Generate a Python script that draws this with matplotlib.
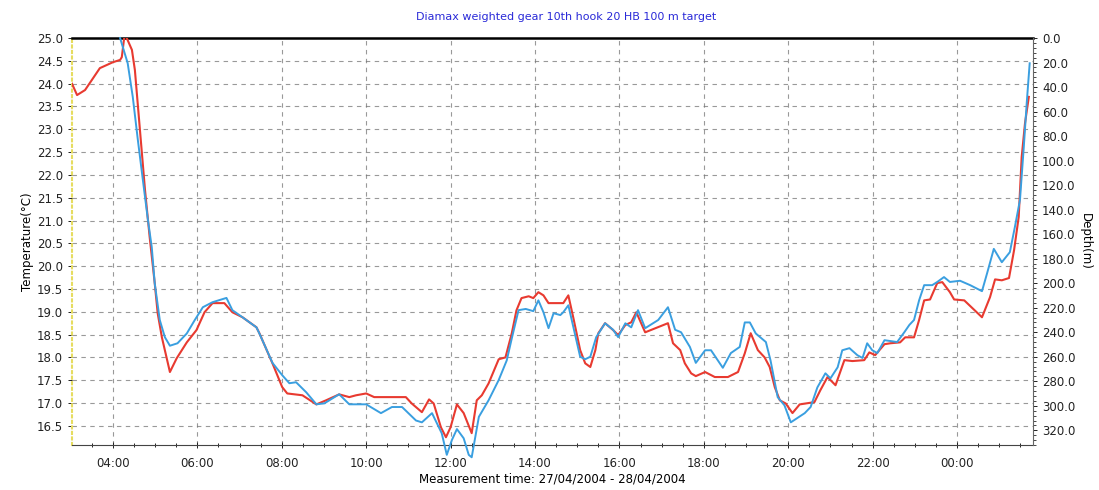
import numpy as np
import matplotlib
matplotlib.use("Agg")
import matplotlib.pyplot as plt
from matplotlib.ticker import MultipleLocator

# time in hours since 27/04/2004 00:00 (values > 24 are on 28/04)
red_time = [3.03, 3.15, 3.34, 3.69, 4.0, 4.17, 4.21, 4.28, 4.45, 4.52, 4.64, 4.76, 4.87, 4.99,
            5.06, 5.16, 5.35, 5.51, 5.75, 5.98, 6.17, 6.36, 6.64, 6.83, 7.07, 7.40, 7.47, 7.78,
            8.01, 8.13, 8.49, 8.82, 9.05, 9.36, 9.60, 9.76, 10.0, 10.19, 10.94, 11.08, 11.32,
            11.49, 11.60, 11.77, 11.89, 12.0, 12.15, 12.31, 12.50, 12.62, 12.74, 12.90, 13.14,
            13.30, 13.45, 13.56, 13.68, 13.85, 13.96, 14.08, 14.20, 14.32, 14.67, 14.79, 14.91,
            15.07, 15.19, 15.31, 15.43, 15.50, 15.66, 15.85, 15.97, 16.14, 16.28, 16.40, 16.61,
            16.85, 17.15, 17.27, 17.44, 17.55, 17.70, 17.81, 18.03, 18.26, 18.57, 18.81, 18.97,
            19.11, 19.28, 19.44, 19.56, 19.68, 19.80, 19.94, 20.10, 20.27, 20.62, 20.76, 20.93,
            21.12, 21.33, 21.52, 21.80, 21.92, 22.06, 22.28, 22.42, 22.65, 22.77, 22.98, 23.10,
            23.22, 23.36, 23.53, 23.65, 23.83, 23.93, 24.17, 24.59, 24.78, 24.90, 25.06, 25.23,
            25.35, 25.46, 25.53, 25.61, 25.70]
temperature = [24.0, 23.75, 23.86, 24.34, 24.47, 24.52, 24.58, 25.1, 24.74, 24.3, 22.98, 21.67,
               20.64, 19.63, 18.97, 18.44, 17.68, 17.98, 18.33, 18.6, 18.99, 19.19, 19.19, 18.99,
               18.88, 18.66, 18.53, 17.87, 17.35, 17.21, 17.17, 16.97, 17.06, 17.19, 17.13, 17.17,
               17.21, 17.13, 17.13, 16.99, 16.8, 17.08, 16.99, 16.47, 16.25, 16.47, 16.97, 16.78,
               16.34, 17.06, 17.17, 17.43, 17.96, 18.0, 18.53, 19.03, 19.3, 19.34, 19.3, 19.43,
               19.36, 19.19, 19.19, 19.36, 18.86, 18.16, 17.87, 17.79, 18.16, 18.53, 18.75, 18.6,
               18.49, 18.71, 18.77, 18.99, 18.55, 18.64, 18.75, 18.31, 18.16, 17.87, 17.65, 17.59,
               17.68, 17.57, 17.57, 17.68, 18.09, 18.53, 18.16, 18.0, 17.79, 17.35, 17.06, 16.99,
               16.78, 16.97, 17.02, 17.28, 17.57, 17.39, 17.94, 17.92, 17.94, 18.11, 18.05, 18.29,
               18.31, 18.33, 18.44, 18.44, 18.82, 19.25, 19.27, 19.63, 19.65, 19.43, 19.27, 19.25,
               18.88, 19.32, 19.71, 19.69, 19.74, 20.35, 21.08, 22.39, 23.14, 23.71]

blue_time = [4.17, 4.35, 4.47, 4.59, 4.71, 4.83, 4.92, 4.99, 5.11, 5.23, 5.35, 5.53, 5.75,
             5.94, 6.13, 6.36, 6.69, 6.83, 7.07, 7.40, 7.47, 7.78, 8.01, 8.18, 8.34, 8.58, 8.82,
             9.01, 9.36, 9.60, 10.0, 10.35, 10.61, 10.85, 11.18, 11.32, 11.56, 11.79, 11.91,
             12.03, 12.15, 12.31, 12.43, 12.50, 12.67, 12.90, 13.14, 13.33, 13.45, 13.61, 13.78,
             13.96, 14.08, 14.20, 14.32, 14.44, 14.60, 14.67, 14.79, 14.91, 15.07, 15.19, 15.31,
             15.45, 15.66, 15.85, 15.97, 16.14, 16.28, 16.44, 16.61, 16.92, 17.15, 17.32, 17.46,
             17.67, 17.81, 18.03, 18.17, 18.45, 18.64, 18.85, 18.97, 19.09, 19.23, 19.47, 19.58,
             19.75, 19.91, 20.06, 20.39, 20.53, 20.69, 20.88, 21.0, 21.17, 21.28, 21.45, 21.64,
             21.76, 21.87, 21.99, 22.11, 22.28, 22.58, 22.75, 22.87, 22.98, 23.10, 23.22, 23.41,
             23.53, 23.69, 23.83, 24.07, 24.31, 24.59, 24.71, 24.87, 25.06, 25.25, 25.37, 25.49,
             25.58, 25.65, 25.72]
depth = [0, 20.6, 48, 83, 116, 148.6, 170.6, 200, 230, 244, 251, 249, 241, 230, 219.6, 215.5,
         212, 222, 227.8, 236, 241, 265, 275, 281.6, 280.8, 289, 298.8, 298, 290.6, 298.8, 298.8,
         306, 301, 301, 312, 313.5, 306, 322.4, 340, 328, 319, 326.5, 340, 342, 309, 295.5, 279,
         263, 245, 222, 221, 222.8, 214, 223.7, 236.7, 224.5, 226, 223.7, 218, 236, 260, 262, 260,
         244, 232.7, 238, 244, 232.7, 236, 222, 236.7, 230, 219.6, 238, 240, 252, 265, 254.7,
         254.7, 269, 257, 252, 232, 232, 241, 248, 263, 293, 299.6, 313.5, 306, 301, 285, 273.5,
         277.6, 268.6, 254.7, 253, 258.8, 261, 249, 254.7, 257, 246.5, 248, 240, 234, 230, 214,
         201.6, 201.6, 199, 195, 199, 198, 201.6, 206.5, 192, 172, 182.9, 174.7, 154, 132, 89, 53,
         20.6]

hour_ticks = [4, 6, 8, 10, 12, 14, 16, 18, 20, 22, 24]
hour_labels = ["04:00", "06:00", "08:00", "10:00", "12:00", "14:00", "16:00", "18:00",
               "20:00", "22:00", "00:00"]
temp_ticks = np.arange(16.5, 25.01, 0.5)
depth_ticks = np.arange(0, 321, 20)

fig = plt.figure(figsize=(10.99, 4.9), dpi=100)
ax = fig.add_axes([0.0655, 0.0918, 0.8745, 0.8306])
ax2 = ax.twinx()

ax.plot(red_time, temperature, color="#e83a30", lw=1.5, zorder=3)
ax2.plot(blue_time, depth, color="#3a9fe0", lw=1.4, clip_on=False, zorder=3)

ax.set_xlim(3.03, 25.8)
ax.set_ylim(16.08, 25.0)
ax2.set_ylim(332, 0)

ax.set_xticks(hour_ticks)
ax.set_xticklabels(hour_labels)
ax.xaxis.set_minor_locator(MultipleLocator(0.5))
ax.set_yticks(temp_ticks)
ax.set_yticklabels(["%.1f" % t for t in temp_ticks])
ax2.set_yticks(depth_ticks)
ax2.set_yticklabels(["%.1f" % d for d in depth_ticks])
ax2.yaxis.set_minor_locator(MultipleLocator(4))

ax.grid(True, which="major", color="#777777", linestyle=(0, (4, 4)), lw=0.8, alpha=0.75)

for a in (ax, ax2):
    a.tick_params(labelsize=8.5, colors="#222222", length=3, width=0.7)
ax.tick_params(axis="x", which="both", direction="inout", length=5, pad=6)
ax.tick_params(axis="x", which="minor", length=3)
ax2.tick_params(axis="y", which="minor", length=2, width=0.5)

ax.spines["top"].set_linewidth(1.8)
ax.spines["top"].set_color("black")
ax.spines["left"].set_color("#e6dc60")
ax.spines["left"].set_linestyle(":")
ax.spines["left"].set_linewidth(1.5)
ax2.spines["left"].set_visible(False)
ax2.spines["top"].set_visible(False)
ax2.spines["bottom"].set_visible(False)
ax2.spines["right"].set_color("#666666")
ax.spines["right"].set_visible(False)
ax.spines["bottom"].set_color("#444444")

fig.text(0.515, 0.965, "Diamax weighted gear 10th hook 20 HB 100 m target",
         color="#2a2ad8", fontsize=8, ha="center", va="center")
ax.set_xlabel("Measurement time: 27/04/2004 - 28/04/2004", fontsize=8.5, labelpad=2)
ax.set_ylabel("Temperature(\u00b0C)", fontsize=8.5, labelpad=2)
ax2.set_ylabel("Depth(m)", fontsize=8.5, rotation=270, labelpad=12)

fig.savefig("out.png", dpi=100)
